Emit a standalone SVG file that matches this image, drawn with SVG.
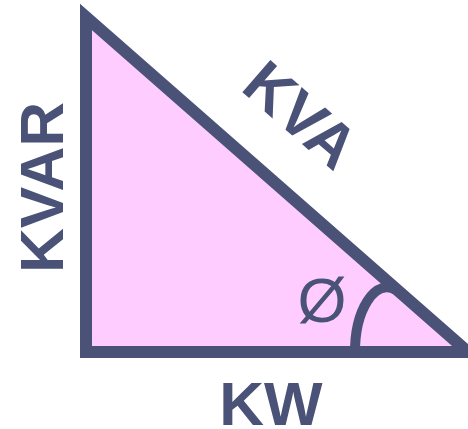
<svg xmlns="http://www.w3.org/2000/svg" width="468" height="429" viewBox="0 0 468 429">
<style>
.ln{stroke:#4a5377;fill:none}
.lbl{font-family:"Liberation Sans",Arial,sans-serif;font-weight:bold;font-size:62px;fill:#4a5377;text-anchor:middle}
</style>
<rect width="468" height="429" fill="#ffffff"/>
<g id="triangle">
<polygon points="86,17 86,352 468,352" fill="#ffccff" stroke="#4a5377" stroke-width="12" stroke-linejoin="miter" stroke-miterlimit="10"/>
</g>
<g id="angle">
<path class="ln" d="M355,354 A32,65 0 0 1 396,290" stroke-width="10"/>
<text x="322" y="322" font-family="Liberation Sans,Arial,sans-serif" font-size="63" fill="#4a5377" text-anchor="middle">Ø</text>
</g>
<g id="kvar"><text class="lbl" transform="translate(63,187.5) rotate(-90)">KVAR</text></g>
<g id="kva"><text class="lbl" transform="translate(287,131) rotate(41)">KVA</text></g>
<g id="kw"><text class="lbl" x="271" y="425">KW</text></g>
</svg>
